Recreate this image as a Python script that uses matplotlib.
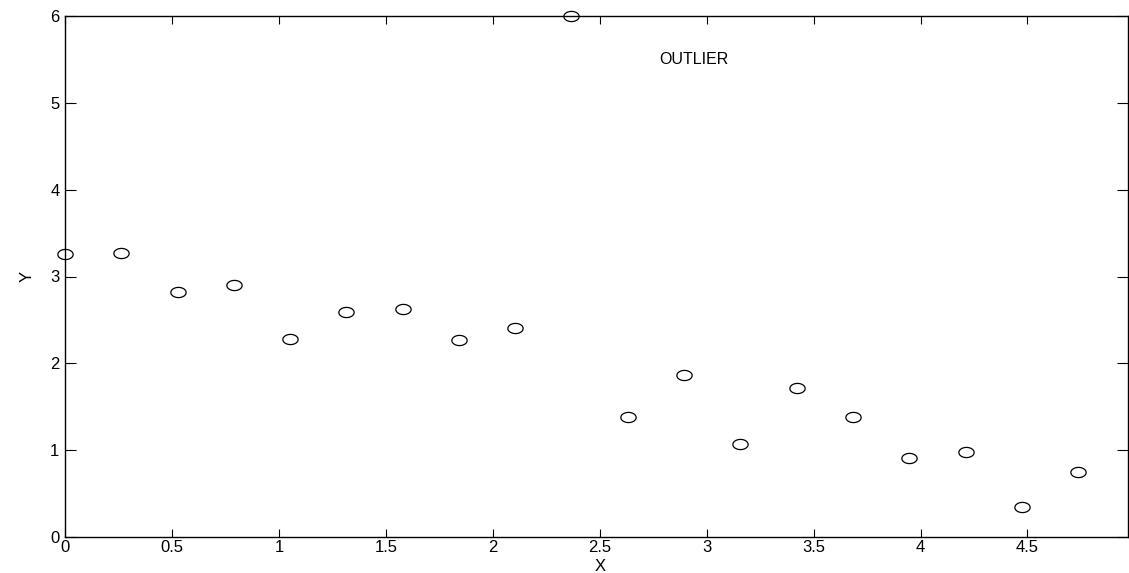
import numpy as np
import matplotlib.pyplot as plt
from matplotlib.path import Path

# dati (x equispaziati 5/19)
x = [0.0, 0.263, 0.526, 0.789, 1.053, 1.316, 1.579, 1.842, 2.105, 2.368,
     2.632, 2.895, 3.158, 3.421, 3.684, 3.947, 4.211, 4.474, 4.737]
y = [3.26, 3.27, 2.82, 2.90, 2.28, 2.59, 2.63, 2.27, 2.41, 6.0,
     1.38, 1.87, 1.07, 1.72, 1.38, 0.91, 0.98, 0.35, 0.75]
xticks = [0, 0.5, 1, 1.5, 2, 2.5, 3, 3.5, 4, 4.5]
xticklabels = ['0', '0.5', '1', '1.5', '2', '2.5', '3', '3.5', '4', '4.5']
yticks = [0, 1, 2, 3, 4, 5, 6]

plt.rcParams['font.family'] = ['Liberation Sans', 'DejaVu Sans']

# marker ellittico (cerchi schiacciati come nell'originale)
t = np.linspace(0, 2 * np.pi, 60)
ellisse = Path(np.column_stack([1.5 * np.cos(t), np.sin(t)]), closed=True)

fig = plt.figure(figsize=(11.29, 5.73), dpi=100)
ax = fig.add_axes([65 / 1129, 36 / 573, 1063 / 1129, 521 / 573])

ax.plot(x, y, linestyle='none', marker=ellisse, markersize=11,
        markerfacecolor='none', markeredgecolor='black', markeredgewidth=0.9,
        clip_on=False)

ax.text(2.94, 5.5, 'OUTLIER', ha='center', va='center', fontsize=11.5)

ax.set_xlim(0, 4.97)
ax.set_ylim(0, 6)
ax.set_xticks(xticks)
ax.set_xticklabels(xticklabels)
ax.set_yticks(yticks)
ax.tick_params(direction='in', top=True, right=True, labelsize=12,
               length=6, width=0.8, pad=2)
ax.tick_params(axis='y', length=8, pad=4)
for s in ax.spines.values():
    s.set_linewidth(1.0)

ax.set_xlabel('X', fontsize=12)
ax.xaxis.set_label_coords(0.503, -0.043)
ax.set_ylabel('Y', fontsize=12, labelpad=11)

fig.savefig('out.png', dpi=100)
